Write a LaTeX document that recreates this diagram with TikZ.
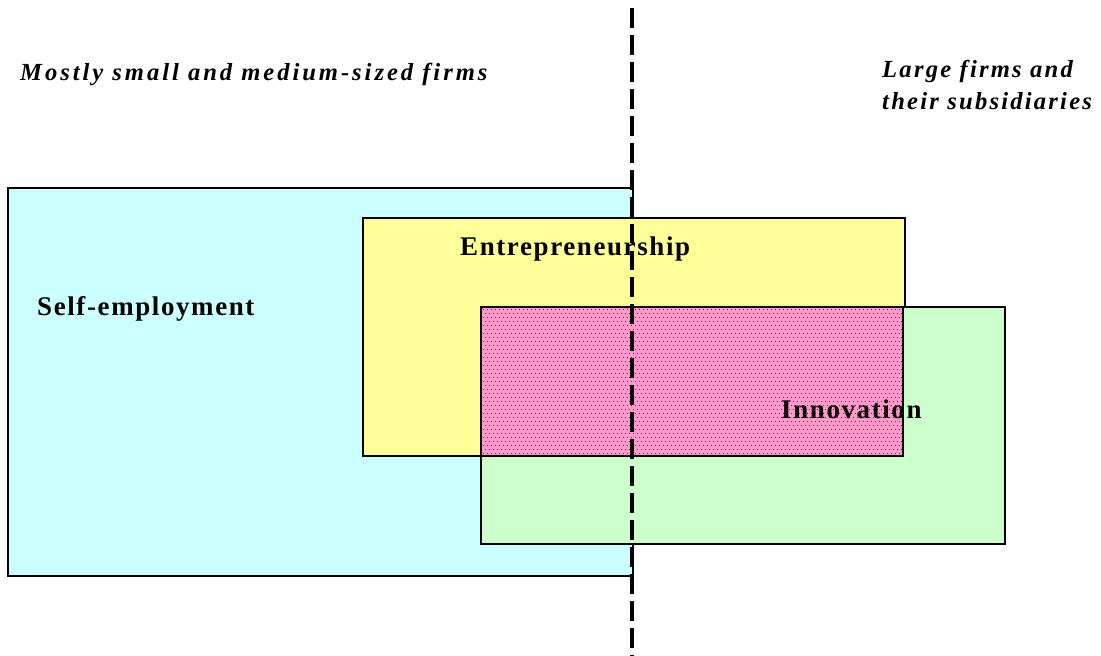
\documentclass[tikz,border=0pt]{standalone}
\usepackage{fontspec}
\setmainfont{Liberation Serif}
\newfontfamily\labelfont[LetterSpace=6]{Liberation Serif}
\newfontfamily\sidefont[LetterSpace=12]{Liberation Serif}
\newfontfamily\rightfont[LetterSpace=9]{Liberation Serif}
\definecolor{selfcyan}{HTML}{CCFFFF}
\definecolor{entyellow}{HTML}{FFFF99}
\definecolor{innogreen}{HTML}{CCFFCC}
\definecolor{overlappink}{HTML}{FF99CC}
\definecolor{dotgrey}{HTML}{4A3A44}
\tikzset{
	box/.style={line width=1.8pt,draw=black},
	label/.style={anchor=base west,inner sep=0pt,font=\labelfont\fontsize{23}{27}\selectfont\bfseries},
	side/.style={anchor=base west,inner sep=0pt,align=left,font=\sidefont\fontsize{21}{27.5}\selectfont\bfseries\itshape}
}
\begin{document}
\begin{tikzpicture}[x=0.03cm,y=-0.03cm]
	\useasboundingbox (0,0) rectangle (1101,656);
	% the three fields
	\draw[box,fill=selfcyan](8,188) rectangle (633,576);
	\draw[box,fill=entyellow](363,218) rectangle (905,456);
	\draw[box,fill=innogreen](481,307) rectangle (1005,544);
	% overlap of entrepreneurship and innovation, dotted
	\fill[overlappink](481,307) rectangle (903,456);
	\foreach \r in {0,...,36}{
		\pgfmathsetmacro{\xo}{483+2*mod(\r,2)}
		\foreach \c in {0,...,104}
			\fill[dotgrey](\xo+4*\c,309+4*\r) rectangle ++(1,1);
	}
	% labels
	\node[side] (small) at (20,81) {Mostly small and medium-sized firms};
	\node[side,anchor=north west,font=\rightfont\fontsize{21}{27.5}\selectfont\bfseries\itshape] (large) at (882,60) {Large firms and\\their subsidiaries};
	\node[label] (entre) at (460,256) {Entrepreneurship};
	\node[label] (self) at (37,315) {Self-employment};
	\node[label] (inno) at (781,418) {Innovation};
	\draw[box](481,307) rectangle (903,456);
	% divide between small and large firms
	\draw[line width=3.3pt,dash pattern=on 17pt off 6pt](632,8)--(632,656);
\end{tikzpicture}
\end{document}
